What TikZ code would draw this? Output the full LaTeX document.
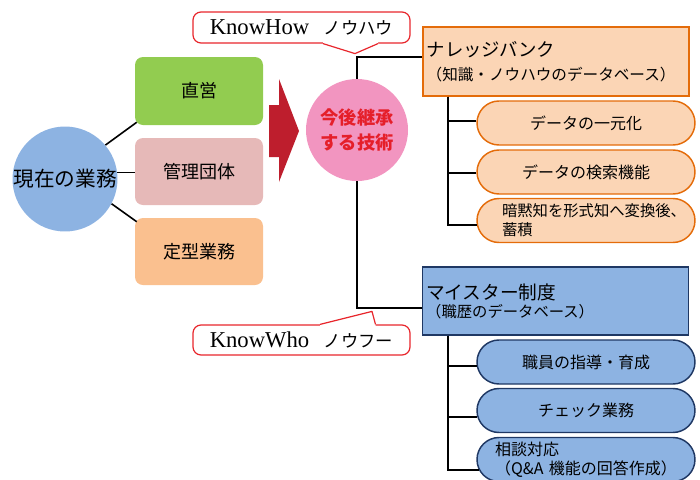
\documentclass[tikz,border=0pt]{standalone}
\usepackage{fontspec}
\setmainfont{Noto Sans CJK JP}
\newfontfamily\lat{Liberation Serif}
\newcommand\myfs[2]{\fontsize{#1}{#2}\selectfont}
\definecolor{cblue}{HTML}{8DB3E2}
\definecolor{cnavy}{HTML}{1F3864}
\definecolor{cgreen}{HTML}{92CC50}
\definecolor{cpinkbox}{HTML}{E6B9B8}
\definecolor{corange}{HTML}{FAC08F}
\definecolor{cred}{HTML}{BE1E2D}
\definecolor{cpinkc}{HTML}{F295C0}
\definecolor{ctext}{HTML}{E51F2A}
\definecolor{orgline}{HTML}{E46C0A}
\definecolor{orgfill}{HTML}{FBD5B5}
\definecolor{calred}{HTML}{E8262C}
\tikzset{
  bx/.style={rounded corners=6pt, minimum width=96pt, minimum height=51pt, inner sep=0pt, font=\myfs{13.5pt}{16pt}},
  bigbox/.style={line width=1.1pt, minimum width=199.5pt, minimum height=51.75pt, text width=194pt, align=left, inner xsep=2.75pt, inner ysep=0pt},
  pill/.style={rounded corners=16.5pt, minimum width=163.5pt, minimum height=33pt, line width=1.1pt, inner sep=0pt, font=\myfs{12pt}{14pt}},
  kbp/.style={pill, draw=orgline, fill=orgfill},
  msp/.style={pill, draw=cnavy, fill=cblue},
  callout/.style={draw=calred, line width=0.9pt, fill=white, rounded corners=6pt, minimum width=162.75pt, inner sep=0pt},
  conn/.style={line width=1.2pt, black},
  ptr/.style={draw=calred, line width=0.9pt, line join=round}
}
\begin{document}
\begin{tikzpicture}[x=0.75pt,y=-0.75pt]
\useasboundingbox (0,0) rectangle (700,479);

% left part
\node[circle, fill=cblue, minimum size=78pt, inner sep=0pt, font=\myfs{15.5pt}{18pt}] (cur) at (65,179) {現在の業務};
\node[bx, fill=cgreen] (b1) at (199,91) {直営};
\node[bx, fill=cpinkbox, minimum height=50.25pt] (b2) at (199,171.5) {管理団体};
\node[bx, fill=corange, minimum height=50.25pt] (b3) at (199,251.5) {定型業務};
\draw[conn] (cur.40) -- ([shift={(2,-3)}]b1.south west);
\draw[conn] (cur.7) -- (cur.7 -| b2.west);
\draw[conn] (cur.-28) -- ([shift={(2,4)}]b3.north west);

% big arrow
\fill[cred] (269,105) -- (279,105) -- (279,79) -- (299,131) -- (279,182) -- (279,157) -- (269,157) -- cycle;

% center circle
\node[circle, fill=cpinkc, minimum size=76.5pt, inner sep=0pt, align=center, text=ctext, font=\bfseries\myfs{13.7pt}{18.75pt}] (tech) at (357,130) {今後継承\\する技術};

% knowledge bank
\node[bigbox, draw=orgline, fill=orgfill, font=\myfs{11.7pt}{18pt}] (kb) at (556,61.5) {{\myfs{13.8pt}{18pt}ナレッジバンク}\\（知識・ノウハウのデータベース）};
\node[kbp] (k1) at (586,123) {データの一元化};
\node[kbp] (k2) at (586,172) {データの検索機能};
\node[kbp, text width=126pt, align=left, font=\myfs{11.5pt}{14.25pt}] (k3) at (586,220.5) {\makebox[0pt][l]{暗黙知を形式知へ変換後、}\\蓄積};
\coordinate (kt) at ([shift={(26,0)}]kb.south west);
\draw[conn] (kt) |- ([shift={(0,-2.3)}]k1.west);
\draw[conn] (kt) |- ([shift={(0,1)}]k2.west);
\draw[conn] (kt) |- ([shift={(0.5,4.5)}]k3.west);

% meister
\node[bigbox, draw=cnavy, fill=cblue, minimum height=51pt, font=\myfs{11.5pt}{13.5pt}] (mb) at (555.5,301) {{\myfs{14pt}{13.5pt}マイスター制度}\\（職歴のデータベース）};
\node[msp] (m1) at (586,362) {職員の指導・育成};
\node[msp] (m2) at (586,410.5) {チェック業務};
\node[msp, text width=136.5pt, align=left, font=\myfs{12pt}{14.25pt}] (m3) at (586,459.5) {相談対応\\（Q\&A 機能の回答作成）};
\coordinate (mt) at ([shift={(26,0)}]mb.south west);
\draw[conn] (mt) |- ([shift={(0.4,4)}]m1.west);
\draw[conn] (mt) |- ([shift={(1,6.2)}]m2.west);
\draw[conn] (mt) |- ([shift={(2.3,10.5)}]m3.west);

% connectors from center
\draw[conn] (tech.north) |- ([shift={(0,-4.5)}]kb.west);
\draw[conn] (tech.south) |- ([shift={(0,7)}]mb.west);

% callouts
\node[callout, minimum height=23.25pt] (kh) at (301.5,27.5) {{\lat\myfs{17pt}{20pt}KnowHow}\hspace{11pt}{\myfs{13pt}{16pt}ノウハウ}};
\fill[white] ([shift={(21.5,-2.5)}]kh.south) -- ([shift={(21.5,0)}]kh.south) -- ([shift={(53.5,10)}]kh.south) -- ([shift={(76.5,0)}]kh.south) -- ([shift={(76.5,-2.5)}]kh.south) -- cycle;
\draw[ptr] ([shift={(21.5,0)}]kh.south) -- ([shift={(53.5,10)}]kh.south) -- ([shift={(76.5,0)}]kh.south);

\node[callout, minimum height=22.5pt] (kw) at (301.5,340) {{\lat\myfs{17pt}{20pt}KnowWho}\hspace{11pt}{\myfs{13pt}{16pt}ノウフー}};
\fill[white] ([shift={(18.5,2.5)}]kw.north) -- ([shift={(18.5,0)}]kw.north) -- ([shift={(70.5,-13)}]kw.north) -- ([shift={(74,0)}]kw.north) -- ([shift={(74,2.5)}]kw.north) -- cycle;
\draw[ptr] ([shift={(18.5,0)}]kw.north) -- ([shift={(70.5,-13)}]kw.north) -- ([shift={(74,0)}]kw.north);
\end{tikzpicture}
\end{document}
